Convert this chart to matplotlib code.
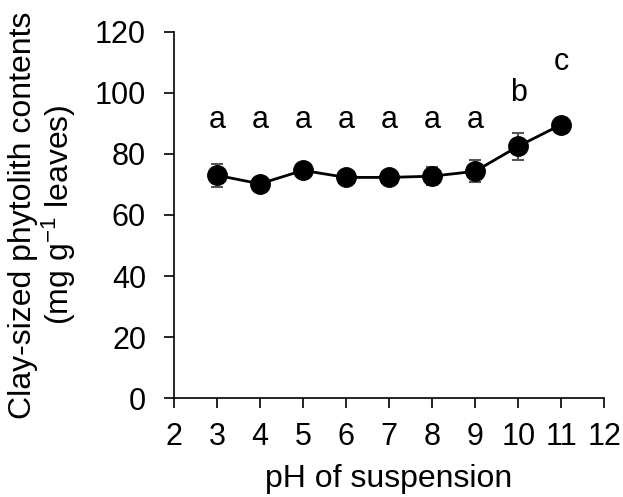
import matplotlib.pyplot as plt

plt.rcParams['font.family'] = ['Liberation Sans', 'DejaVu Sans']
plt.rcParams['mathtext.default'] = 'regular'

ph = [3, 4, 5, 6, 7, 8, 9, 10, 11]
content = [73.0, 70.2, 74.6, 72.3, 72.3, 72.7, 74.3, 82.5, 89.6]
err = [3.8, 1.0, 1.0, 1.0, 1.0, 3.0, 3.6, 4.5, 1.0]
letters = ["a", "a", "a", "a", "a", "a", "a", "b", "c"]
letter_y = [91, 91, 91, 91, 91, 91, 91, 100, 110]

fig = plt.figure(figsize=(6.23, 4.97), dpi=100)
ax = fig.add_axes([0.279, 0.199, 0.691, 0.737])

ax.errorbar(ph, content, yerr=err, fmt="o-", color="black", ecolor="#555555",
            elinewidth=1.5, capsize=4, capthick=1.5, markersize=14, lw=2)

for x, y, s in zip(ph, letter_y, letters):
    ax.text(x, y, s, ha="center", va="center", fontsize=22)

ax.set_xlim(2, 12)
ax.set_ylim(0, 120)
ax.set_xticks(range(2, 13))
ax.set_yticks(range(0, 121, 20))
ax.tick_params(labelsize=22, length=7, width=1.2, direction="out")
ax.tick_params(axis="y", pad=13)
ax.tick_params(axis="x", pad=10)
ax.spines["top"].set_visible(False)
ax.spines["right"].set_visible(False)
ax.spines["left"].set_linewidth(1.2)
ax.spines["bottom"].set_linewidth(1.2)

ax.set_xlabel("pH of suspension", fontsize=23, labelpad=9)
ax.set_ylabel("Clay-sized phytolith contents\n(mg g$^{-1}$ leaves)", fontsize=23,
              labelpad=12, linespacing=1.05)

plt.savefig("out.png", dpi=100)
